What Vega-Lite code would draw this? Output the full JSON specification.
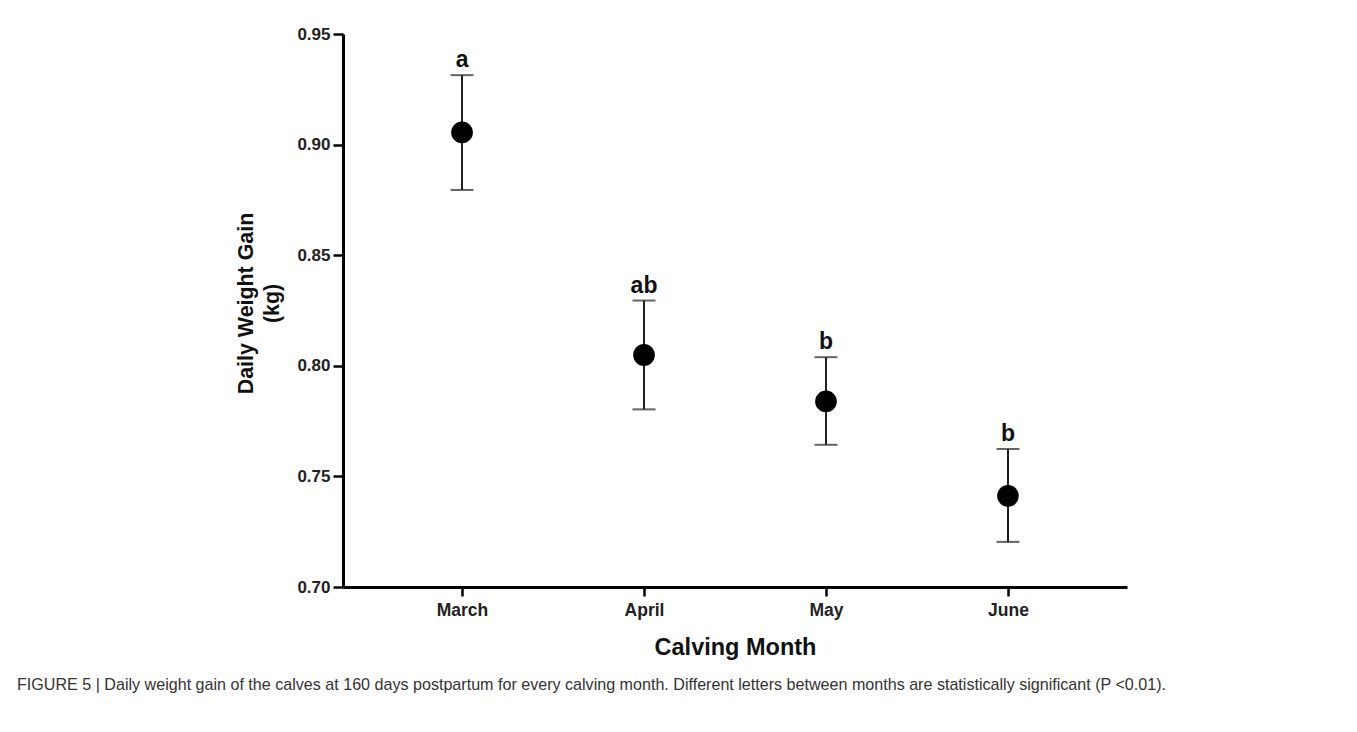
{
  "$schema": "https://vega.github.io/schema/vega-lite/v6.json",
  "autosize": {"type": "none"},
  "width": 784,
  "height": 553,
  "padding": {"left": 343, "top": 34, "right": 230, "bottom": 145},
  "background": "white",
  "data": {
    "values": [
      {"month": "March", "mean": 0.9055, "lower": 0.8795, "upper": 0.9314, "letter": "a"},
      {"month": "April", "mean": 0.8049, "lower": 0.7803, "upper": 0.8295, "letter": "ab"},
      {"month": "May", "mean": 0.7839, "lower": 0.7643, "upper": 0.8039, "letter": "b"},
      {"month": "June", "mean": 0.7412, "lower": 0.7204, "upper": 0.7624, "letter": "b"}
    ]
  },
  "title": {
    "text": "FIGURE 5 | Daily weight gain of the calves at 160 days postpartum for every calving month. Different letters between months are statistically significant (P <0.01).",
    "orient": "bottom",
    "anchor": "start",
    "frame": "group",
    "dx": -326,
    "offset": 18,
    "font": "Liberation Sans",
    "fontSize": 16.1,
    "fontWeight": "normal",
    "color": "#333333"
  },
  "encoding": {
    "x": {
      "field": "month",
      "type": "nominal",
      "sort": ["March", "April", "May", "June"],
      "scale": {"type": "point", "padding": 0.654},
      "axis": {
        "title": "Calving Month",
        "labelAngle": 0,
        "labelFontSize": 17.5,
        "labelPadding": 5,
        "tickSize": 9,
        "titleFontSize": 23.5,
        "titlePadding": 17
      }
    }
  },
  "layer": [
    {
      "mark": {"type": "rule", "strokeWidth": 2, "color": "#222222"},
      "encoding": {
        "y": {
          "field": "lower",
          "type": "quantitative",
          "scale": {"domain": [0.7, 0.95], "nice": false, "zero": false},
          "axis": {
            "title": ["Daily Weight Gain", "(kg)"],
            "values": [0.7, 0.75, 0.8, 0.85, 0.9, 0.95],
            "format": ".2f",
            "grid": false,
            "labelFontSize": 17,
            "labelPadding": 3,
            "tickSize": 10,
            "titleFontSize": 21.4,
            "titleLineHeight": 26,
            "titlePadding": 14,
            "titleY": 269
          }
        },
        "y2": {"field": "upper"}
      }
    },
    {
      "mark": {"type": "tick", "orient": "horizontal", "size": 23, "thickness": 2, "color": "#222222"},
      "encoding": {"y": {"field": "upper", "type": "quantitative"}}
    },
    {
      "mark": {"type": "tick", "orient": "horizontal", "size": 23, "thickness": 2, "color": "#222222"},
      "encoding": {"y": {"field": "lower", "type": "quantitative"}}
    },
    {
      "mark": {"type": "point", "shape": "circle", "filled": true, "size": 470, "color": "#000000", "opacity": 1},
      "encoding": {"y": {"field": "mean", "type": "quantitative"}}
    },
    {
      "mark": {"type": "text", "baseline": "alphabetic", "dy": -8, "font": "Liberation Sans", "fontWeight": "bold", "fontSize": 23, "color": "#111111"},
      "encoding": {
        "y": {"field": "upper", "type": "quantitative"},
        "text": {"field": "letter"}
      }
    }
  ],
  "config": {
    "view": {"stroke": null},
    "font": "Liberation Sans",
    "axis": {
      "domainColor": "#000000",
      "domainWidth": 3,
      "tickColor": "#000000",
      "tickWidth": 2.5,
      "labelFont": "Liberation Sans",
      "labelFontWeight": "bold",
      "labelColor": "#222222",
      "titleFont": "Liberation Sans",
      "titleFontWeight": "bold",
      "titleColor": "#111111"
    }
  }
}
